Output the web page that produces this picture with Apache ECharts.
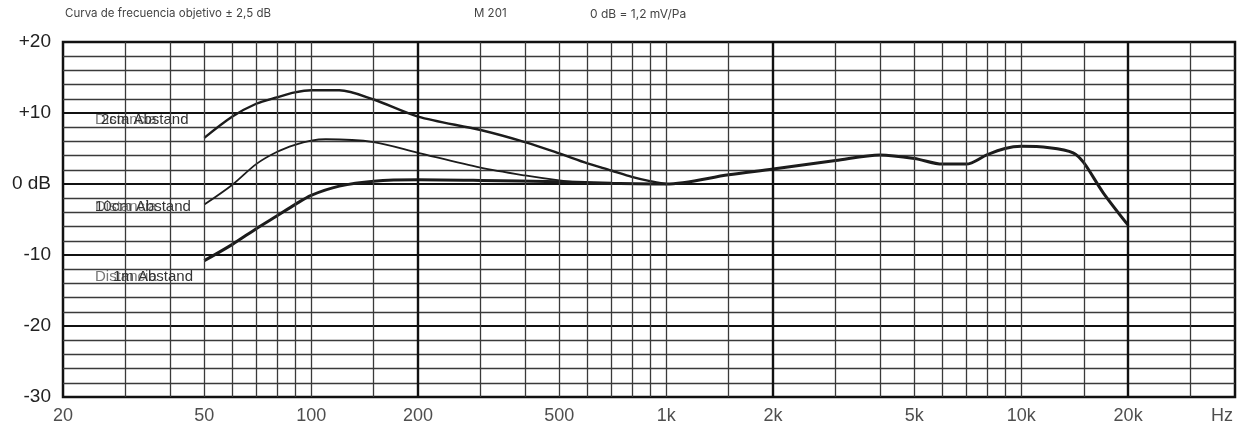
<!DOCTYPE html>
<html>
<head>
<meta charset="utf-8">
<title>M 201 Frequenzgang</title>
<script src="https://cdn.jsdelivr.net/npm/echarts@6/dist/echarts.min.js"></script>
<style>
  html, body { margin: 0; padding: 0; background: #fff; }
  #chart { width: 1240px; height: 431px; }
</style>
</head>
<body>
<div id="chart"></div>
<script>
// Frequenzachse: Beschriftungen
const tickFreqs = [20, 50, 100, 200, 500, 1000, 2000, 5000, 10000, 20000]
const tickLabels = ['20', '50', '100', '200', '500', '1k', '2k', '5k', '10k', '20k']
const unitFreq = 40000
const unitLabel = 'Hz'

// Gitterlinien (Hz)
const minorFreqs = [30, 40, 50, 60, 70, 80, 90, 100, 150, 300, 400, 500, 600, 700, 800, 900, 1000, 1500,
  3000, 4000, 5000, 6000, 7000, 8000, 9000, 10000, 15000, 30000]
const majorFreqs = [200, 2000, 20000]

// 1m Abstand (läuft bis 20k)
const freq1m = [50, 60, 70, 80, 90, 100, 120, 150, 200, 300, 500, 700, 1000, 1500, 2000, 3000, 4000, 5000,
  6000, 7000, 8000, 9000, 10000, 12000, 14000, 15000, 17000, 20000]
const db1m = [-10.8, -8.5, -6.3, -4.5, -2.9, -1.6, -0.3, 0.4, 0.6, 0.5, 0.3, 0.1, 0, 1.3, 2.1, 3.3, 4.1, 3.6,
  2.8, 2.8, 4.1, 5.0, 5.3, 5.1, 4.4, 3.0, -1.2, -5.8]

// 10cm Abstand
const freq10cm = [50, 60, 70, 80, 90, 100, 110, 150, 200, 300, 400, 500, 600, 700, 1000]
const db10cm = [-2.9, -0.1, 2.8, 4.5, 5.5, 6.1, 6.3, 5.9, 4.4, 2.3, 1.2, 0.5, 0.1, 0, 0]

// 2cm Abstand
const freq2cm = [50, 60, 70, 80, 90, 100, 120, 150, 200, 300, 400, 500, 600, 700, 800, 900, 1000]
const db2cm = [6.5, 9.5, 11.3, 12.2, 12.9, 13.2, 13.2, 11.9, 9.5, 7.6, 5.9, 4.3, 2.9, 1.9, 1.0, 0.4, 0]

const dbLabels = { '20': '+20', '10': '+10', '0': '0 dB', '-10': '-10', '-20': '-20', '-30': '-30' }

const chart = echarts.init(document.getElementById('chart'))

function zip(xs, ys) {
  return xs.map((x, i) => [x, ys[i]])
}

// vertikale Gitterlinien als markLine
const gridLines = [
  ...minorFreqs.map(f => ({ xAxis: f, lineStyle: { color: '#3a3a3a', width: 1.3, type: 'solid' } })),
  ...majorFreqs.map(f => ({ xAxis: f, lineStyle: { color: '#111', width: 2.4, type: 'solid' } }))
]

const curveStyle = (w) => ({ color: '#1c1c1c', width: w })

chart.setOption({
  animation: false,
  textStyle: { fontFamily: 'Liberation Sans, Arial, sans-serif' },
  grid: {
    left: 63, right: 5, top: 42, bottom: 34,
    show: true, borderColor: '#111', borderWidth: 2.5
  },
  xAxis: {
    type: 'log',
    logBase: 10,
    min: 20,
    max: 40000,
    axisLine: { show: false },
    axisTick: { show: false },
    axisLabel: { show: false },
    splitLine: { show: false }
  },
  yAxis: {
    type: 'value',
    min: -30,
    max: 20,
    interval: 10,
    axisLine: { show: false },
    axisTick: { show: false },
    axisLabel: {
      margin: 12,
      fontSize: 19,
      color: '#222',
      formatter: v => dbLabels[String(v)]
    },
    splitLine: { lineStyle: { color: '#111', width: 2.2 } },
    minorTick: { show: false, splitNumber: 5 },
    minorSplitLine: { show: true, lineStyle: { color: '#3a3a3a', width: 1.3 } }
  },
  series: [
    {
      name: 'grid',
      type: 'line',
      data: [],
      silent: true,
      markLine: { silent: true, symbol: 'none', label: { show: false }, data: gridLines }
    },
    {
      name: '2cm Abstand',
      type: 'line',
      smooth: 0.3,
      showSymbol: false,
      data: zip(freq2cm, db2cm),
      lineStyle: curveStyle(2.4)
    },
    {
      name: '10cm Abstand',
      type: 'line',
      smooth: 0.3,
      showSymbol: false,
      data: zip(freq10cm, db10cm),
      lineStyle: curveStyle(1.8)
    },
    {
      name: '1m Abstand',
      type: 'line',
      smooth: 0.3,
      showSymbol: false,
      data: zip(freq1m, db1m),
      lineStyle: curveStyle(3)
    },
    {
      // Achsenbeschriftung unten
      name: 'ticks',
      type: 'scatter',
      symbolSize: 0,
      silent: true,
      clip: false,
      data: tickFreqs.map((f, i) => ({ value: [f, -30], name: tickLabels[i] }))
        .concat([{ value: [unitFreq, -30], name: unitLabel, label: { align: 'right', offset: [-2, 0] } }]),
      label: {
        show: true,
        position: 'bottom',
        distance: 10,
        fontSize: 18,
        color: '#222',
        formatter: p => p.name
      }
    }
  ],
  graphic: [
    { type: 'text', left: 65, top: 8, style: { text: 'Curva de frecuencia objetivo ± 2,5 dB', fontSize: 11.5, fill: '#444', fontFamily: 'Inter' } },
    { type: 'text', left: 474, top: 8, style: { text: 'M 201', fontSize: 11.5, fill: '#444', fontFamily: 'Inter' } },
    { type: 'text', left: 590, top: 8, style: { text: '0 dB = 1,2 mV/Pa', fontSize: 12, fill: '#444', fontFamily: 'Inter' } },
    // Kurvenbeschriftungen (im Original überlagert)
    { type: 'text', left: 95, top: 112, style: { text: 'Distancia', fontSize: 15, fill: '#777' } },
    { type: 'text', left: 101, top: 112, style: { text: '2cm Abstand', fontSize: 15, fill: '#333' } },
    { type: 'text', left: 95, top: 199, style: { text: 'Distancia', fontSize: 15, fill: '#777' } },
    { type: 'text', left: 95, top: 199, style: { text: '10cm Abstand', fontSize: 15, fill: '#333' } },
    { type: 'text', left: 95, top: 269, style: { text: 'Distancia', fontSize: 15, fill: '#777' } },
    { type: 'text', left: 113, top: 269, style: { text: '1m Abstand', fontSize: 15, fill: '#333' } }
  ]
})
</script>
</body>
</html>
